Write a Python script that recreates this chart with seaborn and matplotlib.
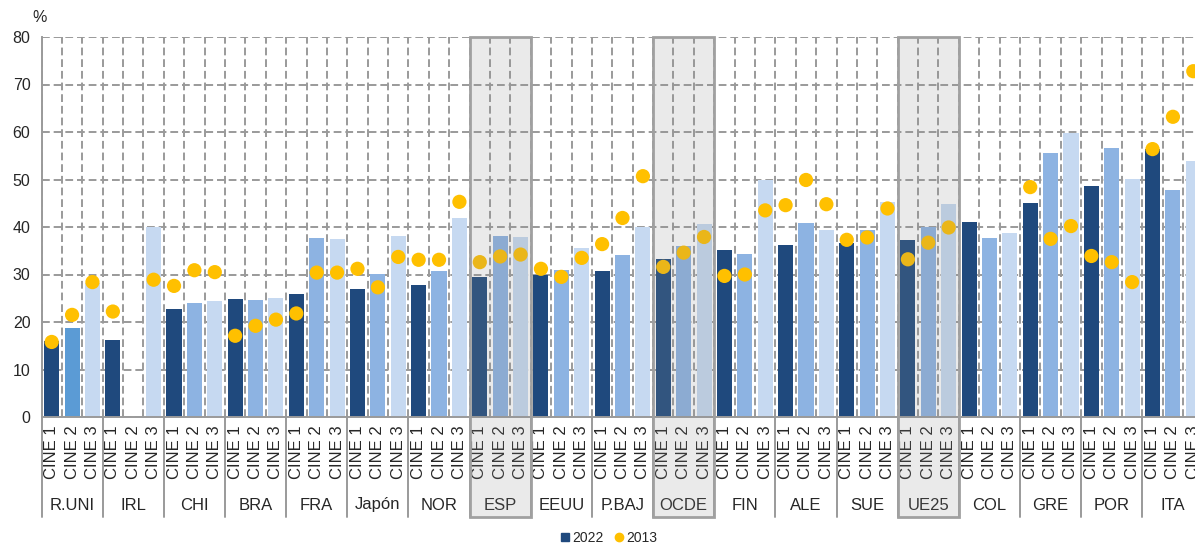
import numpy as np
import pandas as pd
import matplotlib.pyplot as plt
import matplotlib.transforms as mtransforms
from matplotlib.patches import Rectangle
from matplotlib.lines import Line2D
import seaborn as sns

# Datos (%)
paises = ["R.UNI", "IRL", "CHI", "BRA", "FRA", "Japón", "NOR", "ESP", "EEUU", "P.BAJ",
          "OCDE", "FIN", "ALE", "SUE", "UE25", "COL", "GRE", "POR", "ITA"]
niveles = ["CINE 1", "CINE 2", "CINE 3"]
destacados = ["ESP", "OCDE", "UE25"]

# 2022 (barras)
cine1_2022 = [16.0, 16.3, 22.8, 24.8, 25.8, 27.0, 27.7, 29.5, 30.0, 30.7,
              33.3, 35.1, 36.2, 36.6, 37.3, 41.1, 45.1, 48.7, 56.4]
cine2_2022 = [18.7, np.nan, 23.9, 24.6, 37.6, 30.2, 30.7, 38.2, 30.9, 34.2,
              36.1, 34.4, 40.8, 39.3, 40.1, 37.6, 55.5, 56.6, 47.7]
cine3_2022 = [28.3, 40.1, 24.4, 25.0, 37.4, 38.2, 42.0, 38.0, 35.5, 40.1,
              40.6, 49.8, 39.3, 45.2, 44.8, 38.7, 59.7, 50.2, 53.8]

# 2013 (puntos)
cine1_2013 = [15.8, 22.2, 27.6, 17.1, 21.8, 31.2, 33.1, 32.6, 31.2, 36.4,
              31.6, 29.7, 44.6, 37.3, 33.2, np.nan, 48.4, 33.9, 56.4]
cine2_2013 = [21.5, np.nan, 30.9, 19.2, 30.4, 27.3, 33.1, 33.8, 29.5, 41.9,
              34.6, 30.0, 49.9, 37.8, 36.7, np.nan, 37.5, 32.6, 63.2]
cine3_2013 = [28.4, 28.9, 30.5, 20.5, 30.4, 33.7, 45.3, 34.2, 33.5, 50.7,
              37.9, 43.5, 44.8, 43.9, 39.9, np.nan, 40.2, 28.4, 72.8]

colores = {"CINE 1": "#1F497D", "CINE 2": "#8DB3E2", "CINE 3": "#C6D9F1"}
amarillo = "#FFC000"
gris = "#9A9A9A"

# tabla larga: una fila por barra
filas = []
for g, pais in enumerate(paises):
    v22 = [cine1_2022[g], cine2_2022[g], cine3_2022[g]]
    v13 = [cine1_2013[g], cine2_2013[g], cine3_2013[g]]
    for j, nivel in enumerate(niveles):
        filas.append({"pais": pais, "nivel": nivel, "pos": 3 * g + j,
                      "v2022": v22[j], "v2013": v13[j]})
df = pd.DataFrame(filas)
n = len(df)

sns.set_style("white")
plt.rcParams["font.family"] = ["Liberation Sans", "DejaVu Sans"]

fig = plt.figure(figsize=(11.95, 5.45), dpi=100)
ax = fig.add_axes([41.5 / 1195, 128 / 545, 1162 / 1195, 380 / 545])

sns.barplot(data=df.dropna(subset=["v2022"]), x="pos", y="v2022", hue="nivel",
            palette=colores, saturation=1, dodge=False, native_scale=True, width=0.74,
            errorbar=None, legend=False, ax=ax, zorder=2, linewidth=0)
sns.scatterplot(data=df.dropna(subset=["v2013"]), x="pos", y="v2013", color=amarillo,
                s=105, edgecolor="none", legend=False, ax=ax, zorder=3)

# R.UNI CINE 2 tiene un azul algo más intenso
for p in ax.patches:
    if abs(p.get_x() + p.get_width() / 2 - 1) < 0.2:
        p.set_facecolor("#5B9BD5")

ax.set_xlim(-0.5, n - 0.5)
ax.set_ylim(0, 80)
ax.set_yticks(range(0, 81, 10))
ax.set_xticks(range(n))
ax.set_xticklabels(df["nivel"], rotation=90, fontsize=12)
ax.set_xticks(np.arange(-0.5, n, 1), minor=True)
ax.tick_params(axis="x", which="major", length=0, pad=6)
ax.tick_params(axis="x", which="minor", length=4, color=gris, width=1)
ax.tick_params(axis="y", length=5, color=gris, width=1.2, labelsize=11.5, pad=3)
ax.set_xlabel("")
ax.set_ylabel("")

ax.set_axisbelow(True)
ax.grid(axis="y", which="major", color=gris, linestyle=(0, (4, 2)), linewidth=1.4)
ax.grid(axis="x", which="minor", color=gris, linestyle=(0, (4, 2)), linewidth=1.4)
ax.grid(axis="x", which="major", visible=False)
for s in ["top", "right"]:
    ax.spines[s].set_visible(False)
for s in ["left", "bottom"]:
    ax.spines[s].set_color(gris)
    ax.spines[s].set_linewidth(1.4)

trans = mtransforms.blended_transform_factory(ax.transData, ax.transAxes)
fondo = -100 / 380

# separadores de grupo y nombres de país
for g, pais in enumerate(paises):
    ax.add_line(Line2D([3 * g - 0.5, 3 * g - 0.5], [0, fondo], transform=trans,
                       color=gris, linewidth=1.4, clip_on=False))
    ax.text(3 * g + 1, -88 / 380, pais, transform=trans, ha="center", va="center",
            fontsize=12)
    if pais in destacados:
        ax.add_patch(Rectangle((3 * g - 0.5, fondo), 3, 1 - fondo, transform=trans,
                               facecolor=(0.55, 0.55, 0.55, 0.18), edgecolor="#A0A0A0",
                               linewidth=2, clip_on=False, zorder=5))

fig.text(40 / 1195, 1 - 18 / 545, "%", ha="center", va="center", fontsize=11.5)

handles = [Line2D([], [], marker="s", color="#1F497D", linestyle="none", markersize=6),
           Line2D([], [], marker="o", color=amarillo, linestyle="none", markersize=6)]
fig.legend(handles, ["2022", "2013"], loc="center", bbox_to_anchor=(609 / 1195, 1 - 538 / 545),
           ncol=2, frameon=False, fontsize=10, handlelength=0.6, handletextpad=0.2,
           columnspacing=0.8, borderpad=0)

fig.savefig("out.png", dpi=100)
